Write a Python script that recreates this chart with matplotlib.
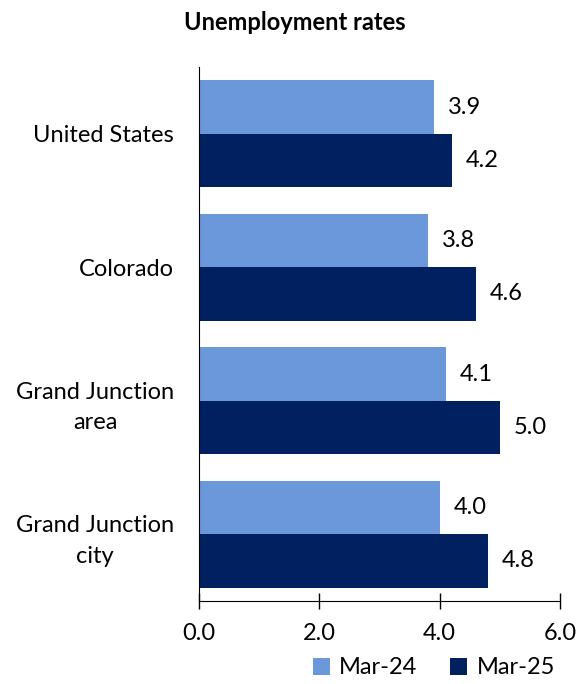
import matplotlib
matplotlib.use("Agg")
import matplotlib.pyplot as plt
import numpy as np

plt.rcParams['font.family'] = ['Lato', 'DejaVu Sans']

categories = ["United States", "Colorado", "Grand Junction\narea", "Grand Junction\ncity"]
series_names = ["Mar-24", "Mar-25"]
mar24 = [3.9, 3.8, 4.1, 4.0]
mar25 = [4.2, 4.6, 5.0, 4.8]
xticks = [0.0, 2.0, 4.0, 6.0]
colors = ["#6A98DA", "#00205F"]

FS = 17
fig = plt.figure(figsize=(5.8, 6.84), dpi=100)
ax = fig.add_axes([199/580, 1-601/684, (560-199)/580, (601-67)/684])

y = np.arange(len(categories))
h = 0.4
b1 = ax.barh(y - h/2, mar24, height=h, color=colors[0], label=series_names[0])
b2 = ax.barh(y + h/2, mar25, height=h, color=colors[1], label=series_names[1])

for bars, vals in ((b1, mar24), (b2, mar25)):
    for rect, v in zip(bars, vals):
        ax.annotate(f"{v:.1f}", (v, rect.get_y() + rect.get_height()/2),
                    xytext=(10, 0), textcoords="offset points", ha="left", va="center",
                    fontsize=FS, color="black")

ax.set_ylim(len(categories) - 0.5, -0.5)
ax.set_xlim(0, 6)
ax.set_xticks(xticks)
ax.set_xticklabels([f"{t:.1f}" for t in xticks], fontsize=FS)
ax.set_yticks(y)
ax.set_yticklabels(categories, fontsize=FS, multialignment="center", linespacing=1.55)
ax.tick_params(axis="y", length=0, pad=18)
ax.tick_params(axis="x", direction="inout", length=12, width=1, pad=10)
for s in ("top", "right"):
    ax.spines[s].set_visible(False)
ax.spines["left"].set_color("black")
ax.spines["bottom"].set_color("black")

fig.text(295/580, 1-22/684, "Unemployment rates", ha="center", va="center",
         fontsize=17, fontweight="bold")

fig.legend(handles=[b1, b2], labels=series_names, loc="center",
           bbox_to_anchor=(434/580, 1-668/684), ncol=2, frameon=False,
           fontsize=FS, handlelength=0.7, handleheight=0.7, handletextpad=0.4,
           columnspacing=1.4)

fig.savefig("out.png", dpi=100)
